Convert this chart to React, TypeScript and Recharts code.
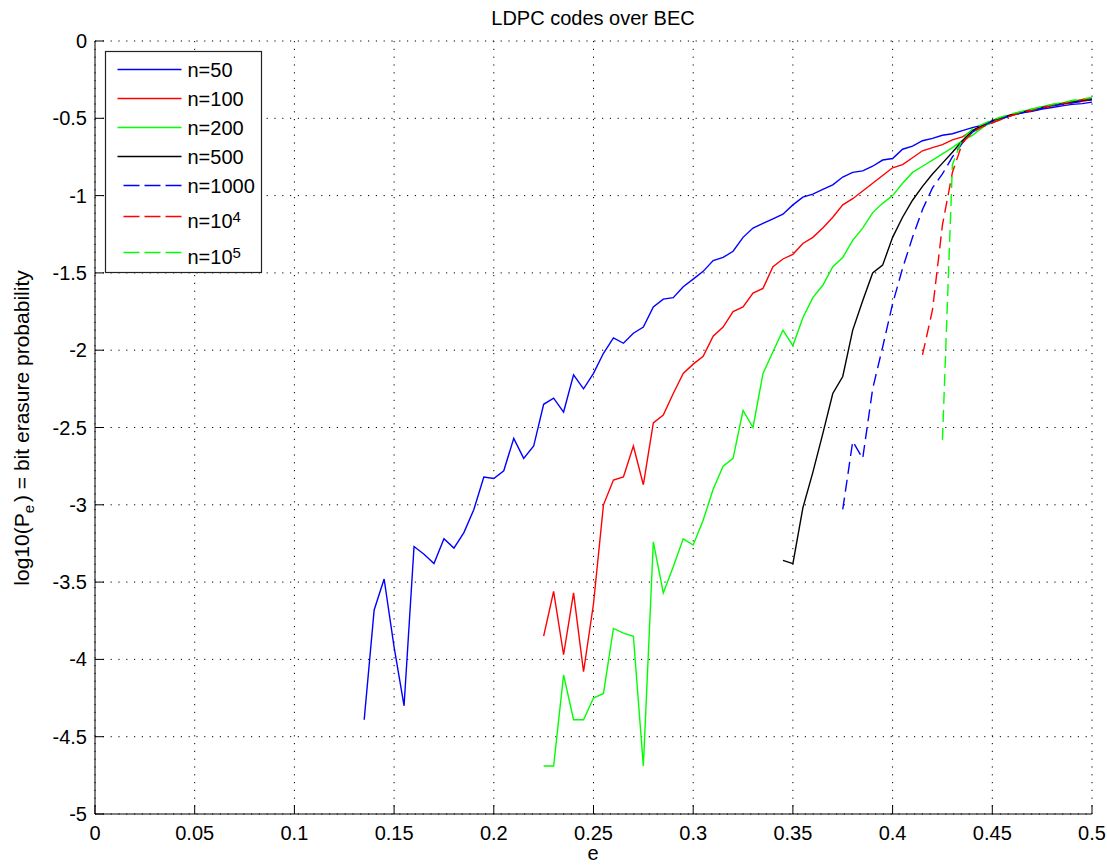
import React from 'react';
import { CartesianGrid, Line, LineChart, XAxis, YAxis } from 'recharts';

// erasure probability e (shared x grid, step 0.005)
const E_VALUES = [
  0.135, 0.14, 0.145, 0.15, 0.155, 0.16, 0.165, 0.17, 0.175, 0.18,
  0.185, 0.19, 0.195, 0.2, 0.205, 0.21, 0.215, 0.22, 0.225, 0.23,
  0.235, 0.24, 0.245, 0.25, 0.255, 0.26, 0.265, 0.27, 0.275, 0.28,
  0.285, 0.29, 0.295, 0.3, 0.305, 0.31, 0.315, 0.32, 0.325, 0.33,
  0.335, 0.34, 0.345, 0.35, 0.355, 0.36, 0.365, 0.37, 0.375, 0.38,
  0.385, 0.39, 0.395, 0.4, 0.405, 0.41, 0.415, 0.42, 0.425, 0.43,
  0.435, 0.44, 0.445, 0.45, 0.455, 0.46, 0.465, 0.47, 0.475, 0.48,
  0.485, 0.49, 0.495, 0.5,
];

// log10(Pe) per block length; every series runs up to e = 0.5
const N50 = [
  -4.39, -3.68, -3.48, -3.92, -4.3, -3.27, -3.32, -3.38, -3.22, -3.28,
  -3.18, -3.03, -2.82, -2.83, -2.78, -2.57, -2.7, -2.62, -2.35, -2.31,
  -2.4, -2.16, -2.25, -2.15, -2.02, -1.92, -1.955, -1.89, -1.85, -1.72,
  -1.67, -1.66, -1.59, -1.54, -1.49, -1.42, -1.4, -1.36, -1.27, -1.21,
  -1.18, -1.15, -1.12, -1.06, -1.01, -0.99, -0.96, -0.93, -0.88, -0.85,
  -0.84, -0.81, -0.77, -0.76, -0.7, -0.68, -0.645, -0.63, -0.61, -0.6,
  -0.58, -0.56, -0.545, -0.52, -0.5, -0.48, -0.465, -0.455, -0.44, -0.43,
  -0.42, -0.41, -0.405, -0.395,
];
const N100 = [
  -3.85, -3.56, -3.97, -3.57, -4.08, -3.64, -3.0, -2.84, -2.82, -2.62,
  -2.87, -2.47, -2.42, -2.28, -2.15, -2.09, -2.04, -1.91, -1.85, -1.75,
  -1.72, -1.63, -1.6, -1.46, -1.41, -1.38, -1.31, -1.27, -1.21, -1.14,
  -1.06, -1.02, -0.97, -0.92, -0.87, -0.82, -0.8, -0.755, -0.71, -0.69,
  -0.67, -0.64, -0.62, -0.58, -0.55, -0.53, -0.5, -0.48, -0.46, -0.45,
  -0.435, -0.42, -0.41, -0.4, -0.39, -0.38,
];
const N200 = [
  -4.69, -4.69, -4.1, -4.39, -4.39, -4.25, -4.22, -3.8, -3.83, -3.85,
  -4.69, -3.24, -3.57, -3.4, -3.22, -3.26, -3.1, -2.9, -2.75, -2.7,
  -2.39, -2.5, -2.15, -2.01, -1.87, -1.97, -1.79, -1.66, -1.58, -1.46,
  -1.4, -1.29, -1.21, -1.11, -1.05, -1.0, -0.92, -0.85, -0.81, -0.77,
  -0.73, -0.69, -0.645, -0.61, -0.56, -0.52, -0.495, -0.475, -0.455, -0.44,
  -0.425, -0.41, -0.4, -0.39, -0.38, -0.37,
];
const N500 = [
  -3.36, -3.38, -3.02, -2.79, -2.54, -2.28, -2.17, -1.87, -1.68, -1.5,
  -1.45, -1.27, -1.14, -1.03, -0.94, -0.86, -0.79, -0.72, -0.645, -0.58,
  -0.545, -0.515, -0.495, -0.475, -0.46, -0.445, -0.43, -0.415, -0.405, -0.395,
  -0.385, -0.375,
];
const N1000 = [
  -3.03, -2.59, -2.7, -2.25, -1.98, -1.7, -1.47, -1.27, -1.09, -0.95,
  -0.86, -0.75, -0.66, -0.59, -0.55, -0.52, -0.5, -0.48, -0.465, -0.45,
  -0.435, -0.42, -0.41, -0.4, -0.39, -0.38,
];
const N1E4 = [
  -2.03, -1.74, -1.19, -0.85, -0.66, -0.59, -0.555, -0.53, -0.505, -0.48,
  -0.46, -0.445, -0.43, -0.415, -0.405, -0.39, -0.38, -0.37,
];
const N1E5 = [
  -2.58, -0.8, -0.63, -0.57, -0.54, -0.51, -0.49, -0.47, -0.455, -0.44,
  -0.425, -0.41, -0.4, -0.385, -0.375, -0.365,
];

const X_TICKS = [0, 0.05, 0.1, 0.15, 0.2, 0.25, 0.3, 0.35, 0.4, 0.45, 0.5];
const Y_TICKS = [-5, -4.5, -4, -3.5, -3, -2.5, -2, -1.5, -1, -0.5, 0];

const SERIES = [
  { key: 'n50', values: N50, color: '#0000ff', dashed: false, label: 'n=50' },
  { key: 'n100', values: N100, color: '#ff0000', dashed: false, label: 'n=100' },
  { key: 'n200', values: N200, color: '#00ff00', dashed: false, label: 'n=200' },
  { key: 'n500', values: N500, color: '#000000', dashed: false, label: 'n=500' },
  { key: 'n1000', values: N1000, color: '#0000ff', dashed: true, label: 'n=1000' },
  { key: 'n1e4', values: N1E4, color: '#ff0000', dashed: true, label: 'n=10', sup: '4' },
  { key: 'n1e5', values: N1E5, color: '#00ff00', dashed: true, label: 'n=10', sup: '5' },
];

const rows = E_VALUES.map((e, i) => {
  const row: Record<string, number | null> = { e };
  SERIES.forEach((s) => {
    const offset = E_VALUES.length - s.values.length;
    row[s.key] = i >= offset ? s.values[i - offset] : null;
  });
  return row;
});

const FONT = '"Liberation Sans", Arial, Helvetica, sans-serif';
const TICK_LEN = 9;

function BottomTick(props: any) {
  const { x, y, payload } = props;
  const axisY = y - 10;
  return (
    <g>
      <line x1={x} x2={x} y1={axisY} y2={axisY - TICK_LEN} stroke="#000" />
      <text x={x} y={axisY + 26} textAnchor="middle" fontFamily={FONT} fontSize={20} fill="#000">
        {String(payload.value)}
      </text>
    </g>
  );
}

function LeftTick(props: any) {
  const { x, y, payload } = props;
  const axisX = x + 8;
  return (
    <g>
      <line x1={axisX} x2={axisX + TICK_LEN} y1={y} y2={y} stroke="#000" />
      <text x={x} y={y + 7} textAnchor="end" fontFamily={FONT} fontSize={20} fill="#000">
        {String(payload.value)}
      </text>
    </g>
  );
}

function TopTick(props: any) {
  const { x, y } = props;
  return <line x1={x} x2={x} y1={y} y2={y + TICK_LEN} stroke="#000" />;
}

function RightTick(props: any) {
  const { x, y } = props;
  return <line x1={x} x2={x - TICK_LEN} y1={y} y2={y} stroke="#000" />;
}

const LEGEND_ROW_Y = [18, 47, 76, 105, 134, 165, 201];

function Overlay() {
  return (
    <svg
      width={1107}
      height={867}
      style={{ position: 'absolute', left: 0, top: 0, pointerEvents: 'none' }}
      fontFamily={FONT}
    >
      <text x={593} y={25} textAnchor="middle" fontSize={20} fill="#000">
        LDPC codes over BEC
      </text>
      <text x={593} y={860} textAnchor="middle" fontSize={20} fill="#000">
        e
      </text>
      <text transform="rotate(-90)" x={-428} y={29} textAnchor="middle" fontSize={21} fill="#000">
        log10(P
        <tspan fontSize={15} dy={5}>e</tspan>
        <tspan dy={-5} dx={3}>) = bit erasure probability</tspan>
      </text>
      <g transform="translate(105.5,51.5)">
        <rect x={0} y={0} width={156} height={221} fill="#fff" stroke="#222" strokeWidth={1.2} />
        {SERIES.map((s, i) => {
          const ly = LEGEND_ROW_Y[i];
          return (
            <g key={s.key}>
              <line
                x1={s.dashed ? 18 : 12}
                x2={76}
                y1={ly}
                y2={ly}
                stroke={s.color}
                strokeWidth={1.4}
                strokeDasharray={s.dashed ? '16 5' : undefined}
              />
              <text x={82} y={ly + (s.sup ? 11 : 7)} fontSize={20} fill="#000">
                {s.label}
                {s.sup ? (
                  <tspan fontSize={15} dy={-6}>
                    {s.sup}
                  </tspan>
                ) : null}
              </text>
            </g>
          );
        })}
      </g>
    </svg>
  );
}

export default function App() {
  return (
    <div style={{ position: 'absolute', left: 0, top: 0, width: 1107, height: 867, background: '#fff' }}>
      <LineChart width={1107} height={867} data={rows} margin={{ top: 41, right: 15, bottom: 0, left: 0 }}>
        <CartesianGrid stroke="#000" strokeDasharray="1.2 6.6" />
        <XAxis
          dataKey="e"
          type="number"
          domain={[0, 0.5]}
          ticks={X_TICKS}
          interval={0}
          height={53}
          tickSize={0}
          tickMargin={10}
          tickLine={false}
          axisLine={{ stroke: '#000' }}
          tick={<BottomTick />}
          allowDataOverflow
        />
        <XAxis
          xAxisId="top"
          orientation="top"
          type="number"
          domain={[0, 0.5]}
          ticks={X_TICKS}
          interval={0}
          height={0}
          tickSize={0}
          tickMargin={0}
          tickLine={false}
          axisLine={{ stroke: '#000' }}
          tick={<TopTick />}
          allowDataOverflow
        />
        <YAxis
          type="number"
          domain={[-5, 0]}
          ticks={Y_TICKS}
          interval={0}
          width={95}
          tickSize={0}
          tickMargin={8}
          tickLine={false}
          axisLine={{ stroke: '#000' }}
          tick={<LeftTick />}
          allowDataOverflow
        />
        <YAxis
          yAxisId="right"
          orientation="right"
          type="number"
          domain={[-5, 0]}
          ticks={Y_TICKS}
          interval={0}
          width={0}
          tickSize={0}
          tickMargin={0}
          tickLine={false}
          axisLine={{ stroke: '#000' }}
          tick={<RightTick />}
          allowDataOverflow
        />
        {SERIES.map((s) => (
          <Line
            key={s.key}
            dataKey={s.key}
            type="linear"
            stroke={s.color}
            strokeWidth={1.4}
            strokeDasharray={s.dashed ? '12 6' : undefined}
            dot={false}
            activeDot={false}
            connectNulls={false}
            isAnimationActive={false}
          />
        ))}
      </LineChart>
      <Overlay />
    </div>
  );
}
